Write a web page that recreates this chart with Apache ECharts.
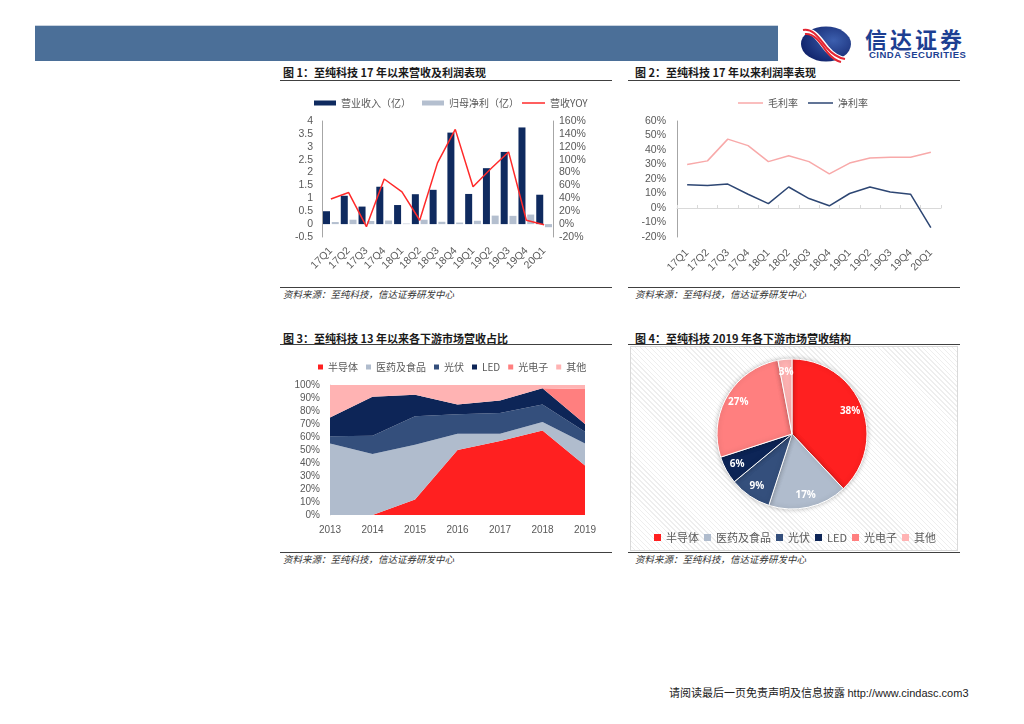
<!DOCTYPE html>
<html><head><meta charset="utf-8">
<script src="https://cdn.jsdelivr.net/npm/echarts@6/dist/echarts.min.js"></script>
<style>
body{margin:0;background:#fff;}
#page{position:relative;width:1024px;height:724px;overflow:hidden;font-family:"Noto Sans CJK SC","Noto Sans",sans-serif;background:#fff;}
.abs{position:absolute;}
.title{font-size:11px;font-weight:bold;color:#1a1a1a;white-space:nowrap;line-height:12px;}
.hline{height:1px;background:#404040;}
.src{font-size:9.5px;font-style:italic;color:#333;white-space:nowrap;line-height:11px;}
#chart{position:absolute;left:0;top:0;width:1024px;height:724px;}
</style></head>
<body>
<div id="page">
  <div class="abs" style="left:35px;top:25px;width:743px;height:1px;background:#c9d3df;"></div>
  <div class="abs" style="left:35px;top:26px;width:743px;height:35px;background:#4b6f98;"></div>
  <svg class="abs" style="left:799px;top:25px;" width="54" height="38" viewBox="0 0 54 38">
    <defs>
      <radialGradient id="lg" cx="65%" cy="40%" r="70%">
        <stop offset="0%" stop-color="#3c5fae"/>
        <stop offset="100%" stop-color="#10226a"/>
      </radialGradient>
    </defs>
    <ellipse cx="27" cy="19" rx="25" ry="17.5" fill="url(#lg)"/>
    <path d="M4 6 C14 4, 20 14, 28 24 C34 31, 40 34, 46 35" stroke="#fff" stroke-width="6" fill="none"/>
    <path d="M4 5 C14 3, 20 13, 28 23 C34 30, 40 33, 46 34" stroke="#e32532" stroke-width="2" fill="none"/>
    <path d="M6 9 C15 8, 21 17, 28 27 C33 33, 38 36, 42 37" stroke="#e32532" stroke-width="2" fill="none"/>
  </svg>
  <div class="abs" style="left:865px;top:26px;font-size:22px;font-weight:bold;color:#1d3f92;letter-spacing:3px;line-height:24px;white-space:nowrap;">信达证券</div>
  <div class="abs" style="left:869px;top:50px;font-size:9.5px;font-weight:bold;color:#1d3f92;line-height:10px;white-space:nowrap;font-family:'Liberation Sans',Arial,sans-serif;letter-spacing:0.5px;">CINDA SECURITIES</div>

  <div class="abs title" style="left:283px;top:66px;">图 1：至纯科技 17 年以来营收及利润表现</div>
  <div class="abs hline" style="left:280px;top:80px;width:332px;"></div>
  <div class="abs hline" style="left:280px;top:287px;width:332px;"></div>
  <div class="abs src" style="left:283px;top:289px;">资料来源：至纯科技，信达证券研发中心</div>

  <div class="abs title" style="left:635px;top:66px;">图 2：至纯科技 17 年以来利润率表现</div>
  <div class="abs hline" style="left:628px;top:80px;width:332px;"></div>
  <div class="abs hline" style="left:628px;top:287px;width:332px;"></div>
  <div class="abs src" style="left:635px;top:289px;">资料来源：至纯科技，信达证券研发中心</div>

  <div class="abs title" style="left:283px;top:332px;">图 3：至纯科技 13 年以来各下游市场营收占比</div>
  <div class="abs hline" style="left:280px;top:344px;width:332px;"></div>
  <div class="abs hline" style="left:280px;top:552px;width:332px;"></div>
  <div class="abs src" style="left:283px;top:554px;">资料来源：至纯科技，信达证券研发中心</div>

  <div class="abs title" style="left:635px;top:332px;">图 4：至纯科技 2019 年各下游市场营收结构</div>
  <div class="abs hline" style="left:628px;top:344px;width:332px;"></div>
  <div class="abs" style="left:630px;top:346px;width:326px;height:203px;border:1px solid #d9d9d9;background:repeating-linear-gradient(45deg,#ffffff 0px,#ffffff 2.5px,#eeeeee 2.5px,#eeeeee 3.5px);"></div>
  <div class="abs hline" style="left:628px;top:552px;width:332px;"></div>
  <div class="abs src" style="left:635px;top:554px;">资料来源：至纯科技，信达证券研发中心</div>

  <div class="abs" style="left:669px;top:686px;font-size:11px;color:#222;white-space:nowrap;line-height:13px;">请阅读最后一页免责声明及信息披露 <span style="font-family:'Liberation Sans',Arial,sans-serif;">http://www.cindasc.com3</span></div>

  <div id="chart"></div>
</div>
<script>
// ---- Data ----
var quarters = ['17Q1','17Q2','17Q3','17Q4','18Q1','18Q2','18Q3','18Q4','19Q1','19Q2','19Q3','19Q4','20Q1'];
var revenue = [0.50, 1.10, 0.68, 1.45, 0.74, 1.16, 1.33, 3.55, 1.17, 2.17, 2.80, 3.75, 1.14];
var netProfit = [0.08, 0.17, 0.12, 0.14, 0.02, 0.17, 0.09, 0.06, 0.13, 0.33, 0.32, 0.37, -0.12];
var revenueYoy = [39, 49, -4, 70, 50, 6, 95, 147, 58, 86, 112, 6, -1];

var grossMargin = [30, 32.5, 47.5, 43, 32, 36, 32, 23.5, 31, 34.5, 35, 35, 38.5];
var netMargin = [16, 15.5, 16.5, 9.5, 3, 14.5, 6.5, 1.5, 10, 14.5, 11, 9.5, -13.5];

var years = ['2013','2014','2015','2016','2017','2018','2019'];
var segNames = ['半导体','医药及食品','光伏','LED','光电子','其他'];
var segColors = ['#ff2020','#b0bccd','#344f7c','#0d2557','#ff7f7f','#ffb3b3'];
var semi   = [0, 0, 12, 50, 57, 65, 38];
var pharma = [55, 47, 42, 12.5, 5.5, 6.5, 17];
var pv     = [5.5, 14, 22, 15, 16, 13.5, 9];
var led    = [14.5, 30, 16.5, 7.5, 9.5, 12.5, 6];
var photo  = [0, 0, 0, 0, 0, 0, 27];
var others = [25, 9, 7.5, 15, 12, 2.5, 3];

var pie2019 = [38, 17, 9, 6, 27, 3];

// ---- Chart ----
var chart = echarts.init(document.getElementById('chart'), null, {renderer:'canvas'});
var gray = '#595959';
var axisGray = '#a6a6a6';
var txt = {fontSize:10, color:gray, fontFamily:'"Liberation Sans", Arial, "Noto Sans CJK SC", sans-serif'};
var txtL = {fontSize:10.5, color:gray, fontFamily:'"Liberation Sans", Arial, "Noto Sans CJK SC", sans-serif'};
var cjkTxt = {fontSize:10, color:gray, fontFamily:'"Noto Sans CJK SC", sans-serif'};

var areaSeries = [semi, pharma, pv, led, photo, others].map(function(arr, i){
  return {
    name: segNames[i], type:'line', xAxisIndex:2, yAxisIndex:3, stack:'share',
    data: arr, symbol:'none', showSymbol:false, lineStyle:{width:0},
    areaStyle:{color:segColors[i], opacity:1}, itemStyle:{color:segColors[i]},
    emphasis:{disabled:true}
  };
});

var pieData = segNames.map(function(n,i){ return {name:n, value:pie2019[i], itemStyle:{color:segColors[i]}}; });
var pieLabelData = segNames.map(function(n,i){ return {name:n, value:pie2019[i]}; });

var option = {
  animation:false,
  backgroundColor:'transparent',
  textStyle:{fontFamily:'"Noto Sans CJK SC", sans-serif'},
  grid:[
    {left:322, top:121, width:231, height:116, outerBoundsMode:'none', containLabel:false},
    {left:677, top:121, width:264, height:116, outerBoundsMode:'none', containLabel:false},
    {left:330, top:385, width:255, height:130, outerBoundsMode:'none', containLabel:false}
  ],
  legend:[
    {left:309, top:93, itemWidth:22, itemHeight:5, itemGap:11, textStyle:cjkTxt, icon:'rect',
     data:['营业收入（亿）','归母净利（亿）']},
    {left:517, top:93, itemWidth:23, itemHeight:1.5, icon:'rect', textStyle:cjkTxt,
     data:['营收YOY']},
    {left:733, top:93, itemWidth:25, itemHeight:1.5, itemGap:10, icon:'rect', textStyle:cjkTxt,
     data:['毛利率','净利率']},
    {left:313, top:357, itemWidth:5, itemHeight:5, itemGap:8, icon:'rect', textStyle:cjkTxt,
     data:segNames},
    {left:649, top:527, itemWidth:7, itemHeight:7, itemGap:5, icon:'rect',
     textStyle:{fontSize:11, color:gray, fontFamily:'"Noto Sans CJK SC", sans-serif'},
     data:segNames}
  ],
  xAxis:[
    {type:'category', gridIndex:0, data:quarters,
     axisLine:{show:false, onZero:true}, axisTick:{show:false},
     axisLabel:Object.assign({rotate:45, interval:0, margin:12}, txtL)},
    {type:'category', gridIndex:1, data:quarters,
     axisLine:{show:true, onZero:true, lineStyle:{color:'#d9d9d9'}},
     axisTick:{show:true, inside:true, length:3, lineStyle:{color:'#d9d9d9'}},
     axisLabel:Object.assign({rotate:45, interval:0, margin:14}, txtL)},
    {type:'category', gridIndex:2, data:years, boundaryGap:false,
     axisLine:{show:false}, axisTick:{show:false},
     axisLabel:Object.assign({margin:10, interval:0}, txt)}
  ],
  yAxis:[
    {type:'value', gridIndex:0, min:-0.5, max:4, interval:0.5,
     axisLine:{show:true, lineStyle:{color:axisGray}}, axisTick:{show:false}, splitLine:{show:false},
     axisLabel:Object.assign({margin:9}, txtL)},
    {type:'value', gridIndex:0, position:'right', min:-20, max:160, interval:20,
     axisLine:{show:true, lineStyle:{color:axisGray}}, axisTick:{show:false}, splitLine:{show:false},
     axisLabel:Object.assign({margin:6, formatter:'{value}%'}, txtL)},
    {type:'value', gridIndex:1, min:-20, max:60, interval:10,
     axisLine:{show:true, lineStyle:{color:axisGray}}, axisTick:{show:false}, splitLine:{show:false},
     axisLabel:Object.assign({margin:11, formatter:'{value}%'}, txtL)},
    {type:'value', gridIndex:2, min:0, max:100, interval:10,
     axisLine:{show:true, lineStyle:{color:'#d9d9d9'}}, axisTick:{show:false}, splitLine:{show:false},
     axisLabel:Object.assign({margin:10, formatter:'{value}%'}, txt)}
  ],
  series:[
    {name:'营业收入（亿）', type:'bar', xAxisIndex:0, yAxisIndex:0, data:revenue,
     barWidth:7, barGap:'25%', itemStyle:{color:'#0f2a5f'}},
    {name:'归母净利（亿）', type:'bar', xAxisIndex:0, yAxisIndex:0, data:netProfit,
     barWidth:7, barGap:'25%', itemStyle:{color:'#b4bfcf'}},
    {name:'营收YOY', type:'line', xAxisIndex:0, yAxisIndex:1, data:revenueYoy,
     symbol:'none', lineStyle:{color:'#ff2a2a', width:1.5}, itemStyle:{color:'#ff2a2a'}, z:5},
    {name:'毛利率', type:'line', xAxisIndex:1, yAxisIndex:2, data:grossMargin,
     symbol:'none', lineStyle:{color:'#f8a9a9', width:1.5}, itemStyle:{color:'#f8a9a9'}},
    {name:'净利率', type:'line', xAxisIndex:1, yAxisIndex:2, data:netMargin,
     symbol:'none', lineStyle:{color:'#2d4673', width:1.5}, itemStyle:{color:'#2d4673'}}
  ].concat(areaSeries).concat([
    {name:'2019结构', type:'pie', center:[792,434], radius:[0,75], startAngle:90, clockwise:true,
     data:pieData, label:{show:false}, labelLine:{show:false},
     itemStyle:{borderColor:'#ffffff', borderWidth:1, shadowBlur:5, shadowColor:'rgba(0,0,0,0.25)'},
     emphasis:{disabled:true}},
    {name:'2019标签', type:'pie', center:[792,434], radius:[44,75], startAngle:90, clockwise:true,
     data:pieLabelData, silent:true, z:3,
     itemStyle:{color:'rgba(0,0,0,0)', borderWidth:0},
     label:{show:true, position:'inside', formatter:'{c}%', color:'#ffffff', fontWeight:'bold', fontSize:10,
            fontFamily:'"Open Sans","Noto Sans",sans-serif'},
     labelLine:{show:false}, emphasis:{disabled:true}}
  ])
};
chart.setOption(option);
</script>
</body></html>
